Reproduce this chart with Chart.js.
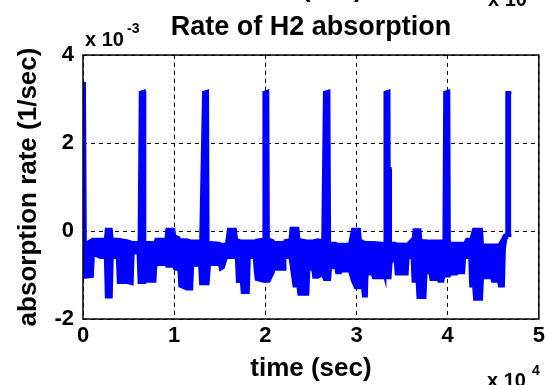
<!DOCTYPE html>
<html>
<head>
<meta charset="utf-8">
<script src="https://cdn.jsdelivr.net/npm/chart.js@4/dist/chart.umd.min.js"></script>
<style>
  html, body { margin: 0; padding: 0; background: #fff; }
  canvas { display: block; }
</style>
</head>
<body>
<canvas id="rateChart" width="549" height="385"></canvas>
<script>
// Datos (tiempo en s, tasa en unidades de 1e-3 1/s)
// El trazo es muy ruidoso: se guarda su envolvente superior e inferior
const timeSec = [
  0, 160, 260, 1030, 1140, 1900, 2450, 2560, 3100, 3210,
  3760, 3870, 4840, 5390, 5500, 6040, 6150, 6280, 6720, 6780,
  7890, 8000, 9090, 9200, 9960, 10070, 10510, 10620, 11380, 11920,
  12030, 12790, 12900, 13220, 13660, 13720, 13770, 13880, 14970, 15080,
  15400, 15730, 15950, 16710, 16820, 16930, 17360, 17470, 18130, 18240,
  18780, 18890, 19000, 19760, 19840, 20270, 20330, 20410, 20850, 20960,
  22050, 22150, 22700, 22810, 23140, 23570, 23680, 24660, 24770, 25200,
  25310, 25750, 26290, 26480, 26970, 27050, 27160, 27710, 27820, 28250,
  28360, 29230, 29560, 29890, 30320, 30430, 30650, 30760, 31080, 31190,
  31300, 31740, 31850, 32830, 33040, 33120, 33560, 33580, 33680, 33730,
  33810, 34240, 34350, 35550, 35660, 36090, 36200, 36310, 36640, 36740,
  36960, 37070, 37510, 37620, 38050, 38160, 38920, 39030, 39470, 39580,
  39670, 40120, 40180, 40340, 40990, 41100, 41750, 41860, 42080, 42410,
  42520, 42840, 42950, 43710, 43820, 44800, 44910, 45560, 45670, 46110,
  46220, 46400, 46480, 46980
];

const upperEdge = [
  3.35, 3.35, -0.29, -0.19, -0.19, -0.19, -0.19, 0.04, 0.04, -0.19,
  -0.19, -0.19, -0.22, -0.26, -0.26, -0.26, -0.26, 3.15, 3.18, -0.26,
  -0.26, -0.19, -0.19, 0.04, 0.04, -0.11, -0.15, -0.20, -0.20, -0.23,
  -0.23, -0.23, -0.25, 3.15, 3.18, -0.26, -0.26, -0.26, -0.28, -0.30,
  -0.30, -0.30, 0.04, 0.04, -0.15, -0.20, -0.23, -0.23, -0.23, -0.23,
  -0.23, -0.23, -0.21, -0.19, 3.15, 3.18, -0.19, -0.19, -0.22, -0.26,
  -0.26, -0.22, -0.20, 0.06, 0.06, 0.06, -0.19, -0.23, -0.23, -0.23,
  -0.22, -0.20, -0.22, 3.15, 3.18, -0.26, -0.28, -0.28, -0.30, -0.30,
  -0.30, -0.30, 0.04, 0.04, 0.04, -0.23, -0.23, -0.25, -0.26, -0.26,
  -0.26, -0.26, -0.26, -0.28, -0.28, 3.15, 3.18, 1.42, 1.42, -0.28,
  -0.28, -0.28, -0.29, -0.30, -0.28, -0.19, -0.19, 0.03, 0.03, 0.03,
  0.03, -0.22, -0.22, -0.22, -0.23, -0.23, -0.23, -0.23, -0.23, -0.23,
  3.15, 3.18, -0.26, -0.28, -0.28, -0.28, -0.28, -0.28, -0.19, -0.19,
  -0.19, 0.04, 0.04, 0.04, -0.32, -0.32, -0.32, -0.32, -0.30, -0.15,
  -0.10, -0.08, 3.15, 3.15
];

const lowerEdge = [
  -1.05, -1.05, -1.05, -1.03, -0.53, -0.60, -0.60, -1.50, -1.50, -0.60,
  -0.60, -1.17, -1.17, -1.20, -0.50, -0.50, -1.17, -1.17, -1.17, -1.14,
  -1.14, -0.76, -0.76, -0.80, -0.80, -0.87, -0.87, -1.25, -1.32, -1.32,
  -0.78, -0.78, -1.20, -1.20, -1.20, -1.20, -1.20, -0.76, -0.76, -0.87,
  -0.83, -0.60, -0.60, -0.60, -0.60, -1.15, -1.15, -1.40, -1.40, -0.60,
  -0.60, -0.91, -1.10, -1.14, -1.14, -1.14, -1.14, -1.14, -0.95, -0.87,
  -0.87, -0.60, -0.60, -0.76, -1.25, -1.25, -1.44, -1.44, -0.87, -0.87,
  -1.05, -1.05, -1.00, -1.10, -1.10, -1.10, -0.83, -0.83, -0.95, -0.95,
  -0.91, -0.91, -1.14, -1.29, -1.29, -1.29, -1.29, -1.48, -1.48, -0.77,
  -0.98, -0.98, -1.06, -1.06, -1.00, -1.06, -1.06, -1.06, -1.06, -1.06,
  -0.68, -0.68, -0.98, -0.98, -0.60, -0.60, -1.14, -1.14, -1.14, -1.51,
  -1.51, -1.51, -1.51, -0.95, -0.95, -1.10, -1.10, -1.14, -1.14, -1.02,
  -1.02, -1.02, -1.02, -0.98, -0.98, -0.95, -0.95, -0.60, -0.60, -0.60,
  -1.25, -1.25, -1.55, -1.55, -1.06, -1.06, -1.14, -1.14, -1.25, -1.25,
  -0.40, -0.15, -0.10, -0.10
];

const xTicks = [0, 10000, 20000, 30000, 40000, 50000];
const yTicks = [-2, 0, 2, 4];

const FONT = '"Liberation Sans", Arial, Helvetica, sans-serif';
const BLUE = '#0000ff';

const upperPts = timeSec.map((t, i) => ({ x: t, y: upperEdge[i] }));
const lowerPts = timeSec.map((t, i) => ({ x: t, y: lowerEdge[i] }));

// Caja de ejes completa (Chart.js solo dibuja un lado por eje)
const axesBox = {
  id: 'axesBox',
  afterDatasetsDraw(chart) {
    const { ctx, chartArea: a } = chart;
    ctx.save();
    ctx.strokeStyle = '#000';
    ctx.lineWidth = 1.5;
    ctx.strokeRect(a.left, a.top, a.right - a.left, a.bottom - a.top);
    ctx.restore();
  }
};

// Multiplicadores de escala y restos del grafico de arriba (cortados)
const extraText = {
  id: 'extraText',
  afterDraw(chart) {
    const ctx = chart.ctx;
    ctx.save();
    ctx.fillStyle = '#000';
    ctx.textBaseline = 'alphabetic';
    ctx.textAlign = 'left';

    ctx.font = 'bold 20px ' + FONT;
    ctx.fillText('x 10', 85, 46);
    ctx.font = 'bold 14px ' + FONT;
    ctx.fillText('-3', 127, 33);

    ctx.font = 'bold 20px ' + FONT;
    ctx.fillText('x 10', 487, 387);
    ctx.font = 'bold 14px ' + FONT;
    ctx.fillText('4', 532, 375);

    ctx.font = 'bold 20px ' + FONT;
    ctx.fillText('x 10', 488, 6);
    ctx.font = 'bold 26px ' + FONT;
    ctx.textAlign = 'center';
    ctx.fillText('time (sec)', 302, -3);
    ctx.restore();
  }
};

new Chart(document.getElementById('rateChart'), {
  type: 'line',
  data: {
    datasets: [
      {
        label: 'upper',
        data: upperPts,
        borderColor: BLUE,
        backgroundColor: BLUE,
        borderWidth: 3,
        pointRadius: 0,
        tension: 0,
        fill: '+1'
      },
      {
        label: 'lower',
        data: lowerPts,
        borderColor: BLUE,
        backgroundColor: BLUE,
        borderWidth: 3,
        pointRadius: 0,
        tension: 0,
        fill: false
      }
    ]
  },
  options: {
    responsive: false,
    animation: false,
    devicePixelRatio: 1,
    layout: { padding: { top: 0, right: 6, bottom: 0, left: 0 } },
    plugins: {
      legend: { display: false },
      tooltip: { enabled: false },
      title: {
        display: true,
        text: 'Rate of H2 absorption',
        fullSize: false,
        color: '#000',
        font: { family: FONT, size: 27, weight: 'bold' },
        padding: { top: 11, bottom: 11.6 }
      }
    },
    scales: {
      x: {
        type: 'linear',
        min: 0,
        max: 50000,
        afterBuildTicks: scale => { scale.ticks = xTicks.map(v => ({ value: v })); },
        afterFit: scale => { scale.height = 66; },
        ticks: {
          color: '#000',
          padding: 4,
          font: { family: FONT, size: 22, weight: 'bold' },
          callback: v => String(v / 10000)
        },
        grid: { color: '#000', lineWidth: 1, drawTicks: false },
        border: { display: false, dash: [4, 4] },
        title: {
          display: true,
          text: 'time (sec)',
          color: '#000',
          font: { family: FONT, size: 26, weight: 'bold' },
          padding: { top: 0, bottom: 1 }
        }
      },
      y: {
        min: -2,
        max: 4,
        afterBuildTicks: scale => { scale.ticks = yTicks.map(v => ({ value: v })); },
        afterFit: scale => { scale.width = 83; },
        ticks: {
          color: '#000',
          padding: 9,
          font: { family: FONT, size: 22, weight: 'bold' },
          callback: v => String(v)
        },
        grid: { color: '#000', lineWidth: 1, drawTicks: false },
        border: { display: false, dash: [4, 4] },
        title: {
          display: true,
          text: 'absorption rate (1/sec)',
          color: '#000',
          font: { family: FONT, size: 26, weight: 'bold' },
          padding: { top: 13, bottom: 0 }
        }
      }
    }
  },
  plugins: [axesBox, extraText]
});
</script>
</body>
</html>
